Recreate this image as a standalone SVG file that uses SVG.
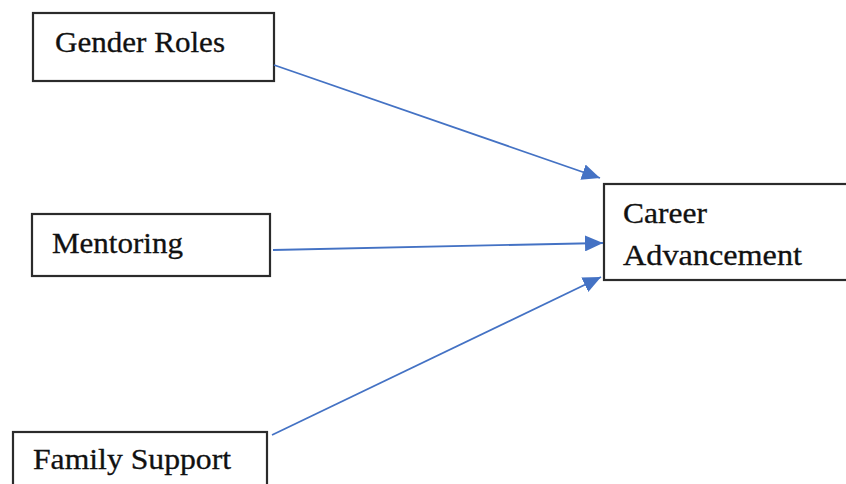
<svg xmlns="http://www.w3.org/2000/svg" width="846" height="484" viewBox="0 0 846 484">
<style>
.box{fill:#fff;stroke:#2b2b2b;stroke-width:2.2}
.lbl{font-family:"Liberation Serif","Times New Roman",serif;font-size:29px;fill:#111;stroke:#111;stroke-width:0.3}
.edge{stroke:#4472C4;stroke-width:1.8;fill:none;marker-end:url(#ah)}
</style>
<defs>
<marker id="ah" markerUnits="userSpaceOnUse" markerWidth="20" markerHeight="16" refX="18" refY="8" orient="auto" viewBox="0 0 20 16">
<path d="M0,0 L18,8 L0,16 z" fill="#4472C4"/>
</marker>
</defs>
<rect width="846" height="484" fill="#fff"/>
<g id="gender-roles">
<rect class="box" x="33" y="13" width="241" height="68"/>
<text class="lbl" x="55" y="52" textLength="170" lengthAdjust="spacingAndGlyphs">Gender Roles</text>
</g>
<g id="mentoring">
<rect class="box" x="32" y="214" width="238" height="62"/>
<text class="lbl" x="52" y="253" textLength="131" lengthAdjust="spacingAndGlyphs">Mentoring</text>
</g>
<g id="family-support">
<rect class="box" x="13" y="432" width="254" height="60"/>
<text class="lbl" x="33" y="469" textLength="198" lengthAdjust="spacingAndGlyphs">Family Support</text>
</g>
<g id="career-advancement">
<rect class="box" x="604" y="184" width="250" height="96"/>
<text class="lbl" x="623" y="223" textLength="84" lengthAdjust="spacingAndGlyphs">Career</text>
<text class="lbl" x="623" y="265" textLength="179" lengthAdjust="spacingAndGlyphs">Advancement</text>
</g>
<g id="connectors">
<line class="edge" x1="274" y1="65" x2="600" y2="178"/>
<line class="edge" x1="273" y1="250" x2="603" y2="243"/>
<line class="edge" x1="272" y1="435" x2="601" y2="277"/>
</g>
</svg>
